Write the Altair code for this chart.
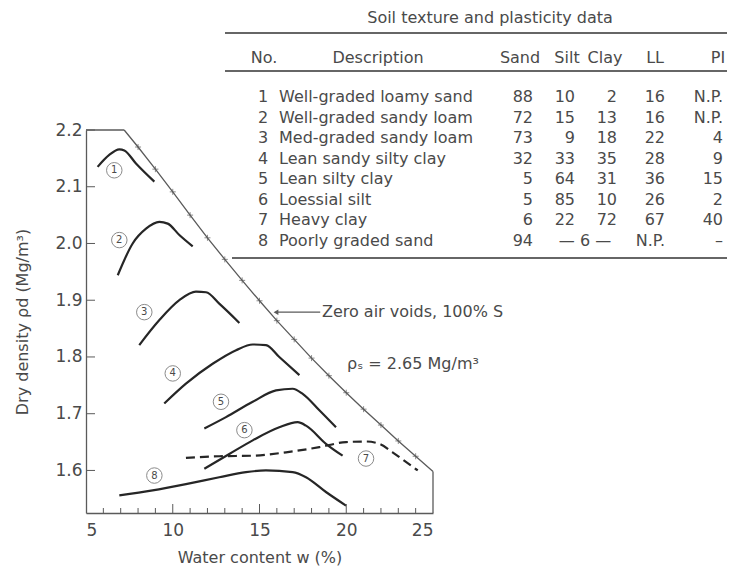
import altair as alt
import pandas as pd

FONT = "DejaVu Sans"
TXT = "#4a4a4a"
LINE = "#262626"
FRAME = "#5a5a5a"

# ---- compaction curves: water content w (%) and dry density (Mg/m3) ----
c1_w = [5.67, 6.34, 6.92, 7.21, 7.88, 8.94]
c1_r = [2.135, 2.156, 2.166, 2.164, 2.141, 2.109]
c2_w = [6.83, 7.69, 8.46, 9.23, 9.71, 10.38, 11.15]
c2_r = [1.944, 2.000, 2.026, 2.038, 2.035, 2.015, 1.995]
c3_w = [8.07, 9.23, 10.38, 11.34, 11.92, 12.68, 13.84]
c3_r = [1.821, 1.865, 1.900, 1.915, 1.914, 1.894, 1.860]
c4_w = [9.51, 10.76, 12.30, 13.65, 14.61, 15.37, 16.14, 17.30]
c4_r = [1.718, 1.753, 1.788, 1.812, 1.822, 1.821, 1.800, 1.768]
c5_w = [11.82, 13.07, 14.61, 15.95, 16.91, 17.49, 18.45, 19.41]
c5_r = [1.674, 1.694, 1.721, 1.741, 1.744, 1.735, 1.706, 1.676]
c6_w = [11.82, 13.26, 14.61, 16.14, 17.20, 17.68, 18.83, 19.79]
c6_r = [1.603, 1.629, 1.653, 1.676, 1.685, 1.679, 1.647, 1.626]
c7_w = [10.76, 12.68, 14.61, 16.53, 18.45, 19.99, 21.14, 21.91, 22.67, 23.44, 24.12]
c7_r = [1.622, 1.625, 1.626, 1.632, 1.641, 1.650, 1.651, 1.647, 1.632, 1.615, 1.600]
c8_w = [6.92, 8.84, 10.76, 12.68, 14.22, 15.37, 16.91, 17.68, 18.83, 19.99]
c8_r = [1.556, 1.565, 1.576, 1.588, 1.597, 1.600, 1.597, 1.588, 1.562, 1.538]

curves = {1: (c1_w, c1_r), 2: (c2_w, c2_r), 3: (c3_w, c3_r), 4: (c4_w, c4_r),
          5: (c5_w, c5_r), 6: (c6_w, c6_r), 7: (c7_w, c7_r), 8: (c8_w, c8_r)}
recs = []
for k, (ws, rs) in curves.items():
    for w, r in zip(ws, rs):
        recs.append({"curve": k, "w": w, "rho": r})
df = pd.DataFrame(recs)

# zero air voids line
zav_w = [7.2, 8, 9, 10, 11, 12, 13, 14, 15, 16, 17, 18, 19, 20, 21, 22, 23, 24, 25]
zav_r = [2.200, 2.170, 2.131, 2.091, 2.050, 2.010, 1.972, 1.935, 1.899, 1.864,
         1.831, 1.798, 1.767, 1.737, 1.708, 1.680, 1.652, 1.625, 1.598]
zav = pd.DataFrame({"w": zav_w, "rho": zav_r})
cross = zav.iloc[1:-1]

# circled curve numbers
lab_no = [1, 2, 3, 4, 5, 6, 7, 8]
lab_w = [6.63, 6.92, 8.36, 10.0, 12.78, 14.13, 21.14, 8.94]
lab_r = [2.129, 2.006, 1.879, 1.771, 1.721, 1.671, 1.621, 1.591]
labs = pd.DataFrame({"no": lab_no, "w": lab_w, "rho": lab_r})

# axis tick values
x_labels = [5, 10, 15, 20, 25]
x_minor = [6, 7, 8, 9, 11, 12, 13, 14, 16, 17, 18, 19, 21, 22, 23, 24]
x_major = [10, 15, 20]
y_labels = [1.6, 1.7, 1.8, 1.9, 2.0, 2.1, 2.2]

# ---- table ----
t_no = [1, 2, 3, 4, 5, 6, 7, 8]
t_desc = ["Well-graded loamy sand", "Well-graded sandy loam", "Med-graded sandy loam",
          "Lean sandy silty clay", "Lean silty clay", "Loessial silt", "Heavy clay",
          "Poorly graded sand"]
t_sand = ["88", "72", "73", "32", "5", "5", "6", "94"]
t_silt = ["10", "15", "9", "33", "64", "85", "22", ""]
t_clay = ["2", "13", "18", "35", "31", "10", "72", ""]
t_siltclay = ["", "", "", "", "", "", "", "\u2014 6 \u2014"]
t_ll = ["16", "16", "22", "28", "36", "26", "67", "N.P."]
t_pi = ["N.P.", "N.P.", "4", "9", "15", "2", "40", "\u2013"]
tbl = pd.DataFrame({"row": t_no, "no": [str(n) for n in t_no], "desc": t_desc,
                    "sand": t_sand, "silt": t_silt, "clay": t_clay, "sc": t_siltclay,
                    "ll": t_ll, "pi": t_pi})

W, H = 347, 383
XS = alt.Scale(domain=[5, 25], nice=False, zero=False)
YS = alt.Scale(domain=[1.525, 2.2], nice=False, zero=False)
one = pd.DataFrame({"a": [0]})

x_axis = alt.Axis(values=x_labels, format="d", ticks=False, grid=False,
                  labelPadding=9, labelFont=FONT, labelFontSize=17, labelColor=TXT,
                  domainColor=FRAME, domainWidth=1.3,
                  title="Water content w (%)", titleFont=FONT, titleFontSize=16,
                  titleFontWeight="normal", titleColor=TXT, titlePadding=11)
y_axis = alt.Axis(values=y_labels, format=".1f", ticks=False, grid=False,
                  labelPadding=4, labelFont=FONT, labelFontSize=17, labelColor=TXT,
                  domainColor=FRAME, domainWidth=1.3,
                  title="Dry density \u03c1d  (Mg/m\u00b3)", titleFont=FONT, titleFontSize=16,
                  titleFontWeight="normal", titleColor=TXT, titlePadding=24)

X = alt.X("w:Q", scale=XS, axis=x_axis)
Y = alt.Y("rho:Q", scale=YS, axis=y_axis)

solid = alt.Chart(df[df.curve != 7]).mark_line(
    interpolate="monotone", color=LINE, strokeWidth=2.2).encode(x=X, y=Y, detail="curve:N")
dashed = alt.Chart(df[df.curve == 7]).mark_line(
    interpolate="monotone", color=LINE, strokeWidth=2.2, strokeDash=[9, 5]).encode(x=X, y=Y)
zline = alt.Chart(zav).mark_line(color=FRAME, strokeWidth=1.3).encode(x="w:Q", y="rho:Q")
zcross = alt.Chart(cross).mark_point(shape="M-1,0L1,0M0,-1L0,1", size=36, filled=False,
                                     stroke=FRAME, strokeWidth=1).encode(x="w:Q", y="rho:Q")
top_seg = alt.Chart(one).mark_rule(color=FRAME, strokeWidth=1.3).encode(
    x=alt.datum(5), x2=alt.datum(zav_w[0]), y=alt.datum(2.2))
right_seg = alt.Chart(one).mark_rule(color=FRAME, strokeWidth=1.3).encode(
    x=alt.datum(25), y=alt.datum(1.525), y2=alt.datum(zav_r[-1]))
xt_minor = alt.Chart(pd.DataFrame({"w": x_minor})).mark_rule(color=FRAME).encode(
    x="w:Q", y=alt.value(H), y2=alt.value(H - 5))
xt_major = alt.Chart(pd.DataFrame({"w": x_major})).mark_rule(color=FRAME).encode(
    x="w:Q", y=alt.value(H), y2=alt.value(H - 9))
yt = alt.Chart(pd.DataFrame({"rho": y_labels})).mark_rule(color=FRAME).encode(
    y="rho:Q", x=alt.value(0), x2=alt.value(9))
circ = alt.Chart(labs).mark_point(shape="circle", size=240, filled=False, stroke="#5a5a5a",
                                  strokeWidth=1).encode(x="w:Q", y="rho:Q")
circ_t = alt.Chart(labs).mark_text(font=FONT, fontSize=10, color=TXT).encode(
    x="w:Q", y="rho:Q", text="no:N")
arrow = alt.Chart(one).mark_rule(color=FRAME, strokeWidth=1.1).encode(
    x=alt.datum(16.0), x2=alt.datum(18.5), y=alt.datum(1.879))
head = alt.Chart(one).mark_point(shape="triangle-left", filled=True, size=30,
                                 color=FRAME, opacity=1).encode(x=alt.datum(15.95), y=alt.datum(1.879))
zav_txt = alt.Chart(one).mark_text(text="Zero air voids, 100% S", align="left", baseline="middle",
                                   font=FONT, fontSize=16, color=TXT).encode(
    x=alt.datum(18.6), y=alt.datum(1.879))
rho_txt = alt.Chart(one).mark_text(text="\u03c1\u209b = 2.65 Mg/m\u00b3", align="left",
                                   baseline="middle", font=FONT, fontSize=16, color=TXT).encode(
    x=alt.datum(20.05), y=alt.datum(1.788))

main = alt.layer(solid, dashed, zline, zcross, top_seg, right_seg, xt_minor, xt_major, yt,
                 circ, circ_t, arrow, head, zav_txt, rho_txt)

# table layers (positions relative to the plot area)
RY = alt.Y("row:Q", scale=alt.Scale(domain=[1, 8], range=[-33, 111]), axis=None)


def col(field, x, align):
    return alt.Chart(tbl).mark_text(align=align, baseline="middle", font=FONT, fontSize=16,
                                    color=TXT).encode(x=alt.value(x), y=RY, text=f"{field}:N")


def label(text, x, y, align="center", size=16):
    return alt.Chart(one).mark_text(text=text, align=align, baseline="middle", font=FONT,
                                    fontSize=size, color=TXT).encode(x=alt.value(x), y=alt.value(y))


def hrule(x1, x2, y):
    return alt.Chart(one).mark_rule(color="#333333", strokeWidth=1.4).encode(
        x=alt.value(x1), x2=alt.value(x2), y=alt.value(y))


table = alt.layer(
    label("Soil texture and plasticity data", 404, -112, size=16),
    hrule(139, 641, -97), hrule(139, 641, -59), hrule(146, 641, 128),
    label("No.", 178, -72), label("Description", 292, -72),
    label("Sand", 434, -72), label("Silt", 481, -72), label("Clay", 519, -72),
    label("LL", 578, -72, align="right"), label("PI", 632, -72),
    col("no", 177, "center"), col("desc", 193, "left"), col("sand", 447, "right"),
    col("silt", 489, "right"), col("clay", 531, "right"), col("sc", 499, "center"),
    col("ll", 579, "right"), col("pi", 637, "right"),
)

chart = alt.layer(main, table).resolve_scale(y="independent").properties(
    width=W, height=H,
    autosize=alt.AutoSizeParams(type="none"),
    padding={"left": 78, "top": 122, "right": 294, "bottom": 56},
    background="white",
).configure_view(stroke=None)

chart.save("out.html", embed_options={"renderer": "svg", "actions": False})
